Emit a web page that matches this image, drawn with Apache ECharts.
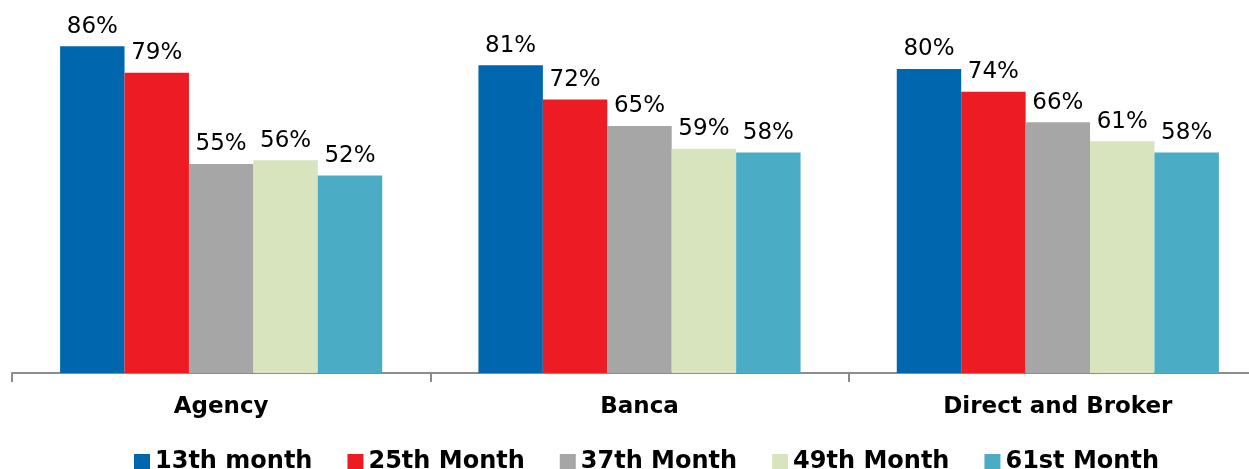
<!DOCTYPE html>
<html>
<head>
<meta charset="utf-8">
<script src="https://cdn.jsdelivr.net/npm/echarts@6/dist/echarts.min.js"></script>
<style>html,body{margin:0;padding:0;background:#fff;overflow:hidden;width:1249px;height:469px;position:relative}#c{position:absolute;left:0;top:-7px;width:1300px;height:476px}</style>
</head>
<body>
<div id="c"></div>
<script>
const categories = ['Agency', 'Banca', 'Direct and Broker'];
const seriesNames = ['13th month', '25th Month', '37th Month', '49th Month', '61st Month'];
const month13 = [86, 81, 80];
const month25 = [79, 72, 74];
const month37 = [55, 65, 66];
const month49 = [56, 59, 61];
const month61 = [52, 58, 58];
const colors = ['#0066AD', '#ED1C24', '#A6A6A6', '#D7E4BD', '#4BACC6'];

const values = [month13, month25, month37, month49, month61];
const chart = echarts.init(document.getElementById('c'));
const font = 'DejaVu Sans, Verdana, sans-serif';
chart.setOption({
  animation: false,
  color: colors,
  grid: { left: 12, top: 0, width: 1255, height: 380, containLabel: false, outerBoundsMode: 'none' },
  legend: {
    left: 134, top: 457, padding: 0,
    itemWidth: 16, itemHeight: 16, itemGap: 35,
    icon: 'rect',
    textStyle: { fontFamily: font, fontWeight: 'bold', fontSize: 24, color: '#000' },
    data: seriesNames
  },
  xAxis: {
    type: 'category', data: categories,
    axisLine: { lineStyle: { color: '#8c8c8c', width: 2 } },
    axisTick: { show: true, length: 9, lineStyle: { color: '#8c8c8c', width: 2 } },
    axisLabel: { fontFamily: font, fontWeight: 'bold', fontSize: 23, color: '#000', margin: 23 }
  },
  yAxis: { type: 'value', min: 0, max: 100, show: false, splitLine: { show: false } },
  series: seriesNames.map((n, i) => ({
    name: n, type: 'bar', data: values[i],
    barGap: '0%', barCategoryGap: '23%',
    label: {
      show: true, position: 'top', distance: 8,
      formatter: '{c}%', fontFamily: font, fontSize: 23, color: '#000'
    }
  }))
});
</script>
</body>
</html>
